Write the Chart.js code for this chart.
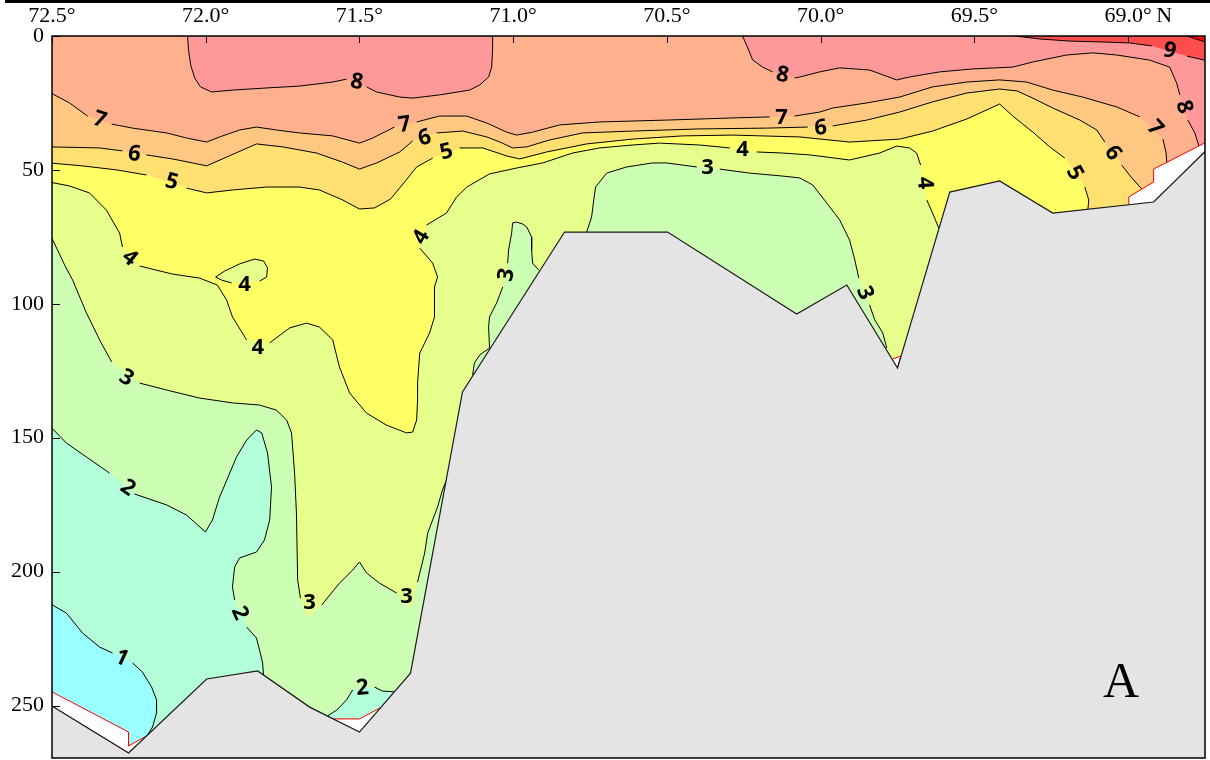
<!DOCTYPE html>
<html>
<head>
<meta charset="utf-8">
<title>Temperature section</title>
<script src="https://cdn.jsdelivr.net/npm/chart.js@4.4.1/dist/chart.umd.min.js"></script>
<style>
  html, body { margin: 0; padding: 0; background: #fff; }
  canvas { display: block; }
</style>
</head>
<body>
<canvas id="section" width="1210" height="760"></canvas>
<script>
// Sea floor: latitude (°N) of each station and bottom depth (m)
const stationLat  = [72.500, 72.251, 71.997, 71.831, 71.662, 71.500, 71.334, 71.165, 70.833, 70.498, 70.078, 69.915, 69.750, 69.580, 69.418, 69.245, 68.917, 68.751];
const bottomDepth = [250.2, 267.7, 240.1, 237.1, 250.6, 259.9, 237.9, 132.9, 73.2, 73.2, 103.8, 93.0, 124.0, 58.3, 54.1, 66.1, 62.0, 43.3];

// Axis ticks
const latTicks = [72.5, 72.0, 71.5, 71.0, 70.5, 70.0, 69.5, 69.0];
const depthTicks = [0, 50, 100, 150, 200, 250];

// Isotherms (°C) as [lat, depth] vertices; null breaks the line where its label sits
const iso1 = [[72.51,211.7],[72.453,215.5],[72.401,222.9],[72.345,228.2],[72.303,230.4],null,[72.238,234.1],[72.206,237.5],[72.176,243.1],[72.160,247.9],[72.160,252.8],[72.173,258.0],[72.189,261.0]];

const iso2 = [[72.51,145.3],[72.453,152.0],[72.388,157.2],[72.313,163.2],null,[72.232,171.0],[72.127,175.1],[72.062,178.9],[72.001,185.2],[71.978,180.7],[71.955,172.1],[71.945,169.5],[71.900,157.2],[71.867,150.9],[71.835,147.1],[71.818,148.2],[71.799,155.7],[71.786,168.4],[71.792,180.7],[71.809,188.2],[71.835,192.7],[71.890,194.9],[71.906,198.3],[71.913,205.7],[71.906,210.6],null,[71.867,220.7],[71.835,224.8],[71.825,229.3],[71.815,234.1],[71.812,238.6]];
const iso2Pocket = [[71.604,253.9],[71.574,251.7],[71.542,247.9],[71.522,244.2],null,[71.451,243.1],[71.425,244.6],[71.386,244.9]];

const iso3 = [[72.51,73.2],[72.482,79.9],[72.459,85.5],[72.433,91.1],[72.388,103.4],[72.345,113.5],[72.306,121.7],null,[72.215,129.6],[72.127,132.2],[72.020,135.2],[71.913,137.0],[71.825,137.8],[71.770,139.7],[71.737,143.4],[71.721,148.2],[71.711,163.2],[71.705,178.1],[71.701,203.1],[71.692,209.9],null,[71.669,217.3],null,[71.623,212.5],[71.565,204.3],[71.522,199.4],[71.500,196.4],[71.477,200.5],[71.435,204.3],[71.379,208.0],null,[71.330,213.6],null,[71.311,203.9],[71.288,193.1],[71.278,185.6],[71.262,180.7],[71.246,175.9],[71.230,169.5],[71.217,165.8]];
const iso3Slope = [[71.132,126.6],[71.126,122.1],[71.109,119.1],[71.077,116.5],[71.080,108.7],[71.077,104.9],[71.054,99.7],[71.034,93.7],null,[71.018,84.8],[71.015,79.9],[71.005,73.6],[71.002,69.8],[70.989,69.5],[70.969,70.2],[70.956,71.3],[70.940,75.1],[70.940,79.9],[70.937,84.8],[70.917,87.4]];
const iso3Bank = [[70.761,73.2],[70.745,67.6],[70.738,61.2],[70.732,56.4],[70.696,51.2],[70.631,48.9],[70.547,47.4],[70.501,47.4],[70.449,48.2],[70.403,48.9],null,[70.328,49.7],[70.231,51.2],[70.124,52.3],[70.068,53.0],[70.026,55.6],[69.980,62.4],[69.938,68.7],[69.906,76.2],[69.889,83.6],[69.876,90.4],null,[69.841,100.4],[69.824,106.0],[69.798,110.9],[69.785,116.5]];

const iso4 = [[72.51,54.5],[72.443,56.0],[72.378,58.6],[72.323,65.0],[72.280,73.6],[72.271,78.8],null,[72.215,85.9],[72.108,88.9],[72.020,90.4],[71.962,93.0],[71.932,98.6],[71.913,104.9],[71.867,113.5],null,[71.792,114.6],[71.727,109.0],[71.672,107.2],[71.630,108.7],[71.587,113.5],[71.565,123.6],[71.532,133.3],[71.477,140.8],[71.412,145.3],[71.347,148.2],[71.327,147.9],[71.314,143.4],[71.311,135.9],[71.311,129.6],[71.304,118.4],[71.272,110.9],[71.256,104.9],[71.256,93.7],[71.246,90.0],[71.262,84.8],[71.304,79.2],null,[71.282,70.6],[71.217,66.1],[71.184,60.1],[71.151,56.4],[71.077,51.5],[70.989,49.3],[70.904,47.4],[70.807,43.7],[70.719,41.8],[70.612,40.7],[70.524,40.0],[70.394,40.7],[70.296,41.8],null,[70.208,43.3],[70.124,43.7],[70.036,44.4],[69.906,46.3],[69.808,43.7],[69.753,41.1],[69.711,41.8],[69.688,43.7],[69.675,48.2],null,[69.655,61.2],[69.636,66.1],[69.616,71.7]];
const iso4Ring = [[71.968,90.0],[71.939,87.8],[71.890,85.1],[71.842,83.3],[71.812,84.0],[71.799,86.6],[71.802,90.0],[71.825,91.5],null,[71.916,92.2],[71.949,91.1],[71.968,90.0]];

const iso5 = [[72.51,47.4],[72.401,48.5],[72.290,50.0],[72.193,51.9],null,[72.062,56.8],[71.997,58.6],[71.913,57.5],[71.802,56.4],[71.695,56.4],[71.630,57.5],[71.555,61.2],[71.500,64.6],[71.451,64.2],[71.399,60.9],[71.353,54.5],[71.314,48.9],[71.262,45.6],null,[71.174,41.8],[71.099,41.8],[71.021,44.8],[70.979,45.9],[70.891,43.3],[70.761,40.3],[70.612,38.5],[70.449,37.3],[70.286,37.0],[70.068,37.7],[69.906,39.6],[69.743,38.5],[69.636,35.5],[69.525,31.0],[69.418,25.4],[69.375,29.9],[69.310,35.9],[69.255,41.4],[69.206,45.6],null,[69.141,56.4],[69.128,61.2],[69.131,65.0]];

const iso6 = [[72.51,41.4],[72.345,41.8],[72.271,42.9],null,[72.193,44.4],[72.108,45.9],[72.043,47.4],[71.997,48.5],[71.932,45.2],[71.835,40.3],[71.750,41.4],[71.640,43.7],[71.555,47.1],[71.500,49.7],[71.444,47.4],[71.369,43.3],[71.327,39.2],null,[71.249,36.2],[71.164,35.5],[71.086,37.7],[71.043,39.6],[71.002,41.8],[70.956,41.4],[70.881,38.8],[70.774,36.2],[70.612,35.5],[70.394,34.7],[70.176,34.4],[70.042,34.0],null,[69.961,33.6],[69.850,31.4],[69.743,28.4],[69.636,24.6],[69.525,21.3],[69.418,19.8],[69.362,20.5],[69.310,23.2],[69.245,26.9],[69.157,31.4],[69.102,35.1],[69.076,39.6],null,[69.021,48.2],[68.988,53.0],[68.956,57.1]];

const iso7 = [[72.51,20.9],[72.443,25.0],[72.384,29.9],null,[72.306,32.9],[72.238,34.4],[72.127,36.2],[72.062,38.1],[71.997,39.6],[71.955,37.7],[71.890,35.1],[71.835,34.0],[71.770,35.1],[71.695,36.2],[71.587,37.3],[71.500,40.0],[71.457,38.1],[71.412,35.5],[71.386,34.0],null,[71.314,32.1],[71.240,29.9],[71.151,29.9],[71.086,32.5],[71.021,35.9],[70.989,37.0],[70.937,35.9],[70.849,33.2],[70.719,32.1],[70.501,31.4],[70.286,30.6],[70.166,30.2],null,[70.085,29.9],[70.003,28.4],[69.961,26.9],[69.850,25.0],[69.743,22.8],[69.636,19.0],[69.525,17.2],[69.418,16.4],[69.330,17.2],[69.245,20.2],[69.148,22.8],[69.037,26.5],[68.962,30.2],null,[68.887,38.5],[68.877,43.3],[68.874,47.4]];

const iso8West = [[72.059,0],[72.056,5.2],[72.049,10.8],[72.036,15.7],[72.017,19.0],[71.981,20.9],[71.913,20.2],[71.802,19.4],[71.695,18.7],[71.587,17.2],[71.542,16.1],null,[71.477,19.0],[71.444,20.9],[71.369,22.8],[71.327,23.2],[71.240,22.0],[71.142,20.2],[71.109,18.3],[71.080,15.3],[71.070,11.6],[71.067,5.2],[71.067,0]];
const iso8East = [[70.254,0],[70.237,4.5],[70.221,9.0],[70.189,11.6],[70.156,13.4],null,[70.085,15.7],[70.068,15.3],[70.003,13.4],[69.938,11.9],[69.841,12.7],[69.753,16.4],[69.711,15.3],[69.613,13.4],[69.505,12.3],[69.375,11.6],[69.310,9.7],[69.200,7.1],[69.115,6.3],[69.037,7.1],[68.930,9.0],[68.865,11.6],[68.842,17.6],[68.832,22.0],null,[68.806,31.4],[68.783,36.2],[68.770,41.1]];

const iso9 = [[69.369,0],[69.288,1.1],[69.190,1.9],[69.093,2.2],[68.995,2.6],[68.923,3.7],null,[68.809,7.5],[68.745,9.2]];
const iso10 = [[68.809,0],[68.780,1.1],[68.745,2.4]];

// Contour labels: text, lat, depth, rotation (deg)
const contourLabels = [
  ['1', 72.274, 232.3, 25],
  ['2', 72.254, 168.8, 35], ['2', 71.890, 215.5, 66], ['2', 71.490, 243.5, -5],
  ['3', 72.258, 127.7, 30], ['3', 71.662, 211.7, 0], ['3', 71.347, 209.5, 0],
  ['3', 71.021, 89.2, -78], ['3', 70.368, 49.3, 0], ['3', 69.857, 96.0, 68],
  ['4', 72.248, 82.9, 40], ['4', 71.874, 93.0, 0], ['4', 71.831, 116.5, 0],
  ['4', 71.298, 75.1, -60], ['4', 70.254, 42.6, 0], ['4', 69.662, 54.9, 85],
  ['5', 72.111, 54.5, 15], ['5', 71.217, 43.3, -15], ['5', 69.174, 51.2, 60],
  ['6', 72.232, 44.1, 8], ['6', 71.288, 38.1, -15], ['6', 70.000, 34.4, -3], ['6', 69.050, 43.7, 55],
  ['7', 72.345, 31.4, 18], ['7', 71.353, 33.2, -8], ['7', 70.127, 30.6, 0], ['7', 68.913, 34.4, 48],
  ['8', 71.509, 17.2, 10], ['8', 70.124, 14.6, 10], ['8', 68.819, 26.5, 72],
  ['9', 68.865, 5.6, 12]
];

// Areas without data next to the sea floor
const noDataWest = [[72.5,244.9],[72.251,259.9],[72.251,265.1],[72.193,261.4],[72.251,267.7],[72.5,250.2]];
const noDataMid  = [[71.587,255.0],[71.500,255.0],[71.428,250.6],[71.500,259.9]];
const noDataTip  = [[69.766,120.6],[69.740,119.5],[69.750,124.0]];
const noDataEast = [[68.998,63.0],[68.998,60.1],[68.917,54.5],[68.917,49.7],[68.745,39.6],[68.745,42.6],[68.917,62.0]];

// Fill colours for each 1 °C band, from <1 up to >10
const bandColors = ['#99ffff', '#b3ffd9', '#ccffb3', '#e6ff8c', '#ffff66', '#ffe070', '#ffc882', '#ffb08c', '#ff9999', '#ff4d4d', '#ff0000'];

// Closure limits lying outside the plotted window
const W = 72.56, E = 68.70, SURF = -5, DEEP = 276;

const solid = pts => pts.filter(Boolean);
// warm side of an isotherm that enters from the western edge
function warmFromWest(pts, extra = []) {
  const p = solid(pts);
  return [[W, SURF], [W, p[0][1]], ...p, ...extra, [E, DEEP], [E, SURF]];
}
// warm side of an isotherm that starts at the surface
function warmFromSurface(pts, tail) {
  const p = solid(pts);
  return [[p[0][0], SURF], ...p, ...tail(p[p.length - 1])];
}
// cold pocket closed under the sea floor
function pocket(pts, head, tail) {
  return [...head, ...solid(pts), ...tail];
}

const fillLayers = [
  [warmFromWest(iso1), bandColors[1]],
  [warmFromWest(iso2, [[71.727, 262.9]]), bandColors[2]],
  [pocket(iso2Pocket, [[71.613, 262.9]], [[71.353, 262.9]]), bandColors[1]],
  [warmFromWest(iso3), bandColors[3]],
  [pocket(iso3Slope, [], [[70.849, 98.6]]), bandColors[2]],
  [pocket(iso3Bank, [[70.761, 91.1]], [[69.785, 135.9]]), bandColors[2]],
  [warmFromWest(iso4), bandColors[4]],
  [pocket(iso4Ring, [], []), bandColors[3]],
  [warmFromWest(iso5), bandColors[5]],
  [warmFromWest(iso6), bandColors[6]],
  [warmFromWest(iso7), bandColors[7]],
  [warmFromSurface(iso8West, last => [[last[0], SURF]]), bandColors[8]],
  [warmFromSurface(iso8East, () => [[E, DEEP], [E, SURF]]), bandColors[8]],
  [warmFromSurface(iso9, last => [[E, last[1]], [E, SURF]]), bandColors[9]],
  [warmFromSurface(iso10, last => [[E, last[1]], [E, SURF]]), bandColors[10]]
];

const contourLines = [iso1, iso2, iso2Pocket, iso3, iso3Slope, iso3Bank, iso4, iso4Ring, iso5, iso6, iso7, iso8West, iso8East, iso9, iso10];

function toXY(pts) {
  let lastX = null;
  return pts.map(p => {
    if (!p) return { x: lastX, y: null };
    lastX = p[0];
    return { x: p[0], y: p[1] };
  });
}

const datasets = [];
for (const [pts, color] of fillLayers) {
  datasets.push({ data: toXY(pts), fill: 'shape', backgroundColor: color, borderWidth: 0, borderColor: 'transparent' });
}
for (const line of contourLines) {
  datasets.push({ data: toXY(line), fill: false, borderColor: '#000', borderWidth: 1, borderJoinStyle: 'round' });
}
for (const area of [noDataWest, noDataMid, noDataTip, noDataEast]) {
  datasets.push({ data: toXY(area), fill: 'shape', backgroundColor: '#ffffff', borderColor: '#ff0000', borderWidth: 1 });
}
const seaFloor = [[W, bottomDepth[0]], ...stationLat.map((lat, i) => [lat, bottomDepth[i]]), [E, bottomDepth[bottomDepth.length - 1]], [E, DEEP], [W, DEEP]];
datasets.push({ data: toXY(seaFloor), fill: 'shape', backgroundColor: '#e4e4e4', borderColor: '#1a1a1a', borderWidth: 1.2 });

// first entry is painted first (bottom), so give it the highest order
datasets.forEach((d, i) => {
  d.order = datasets.length - i;
  d.pointRadius = 0;
  d.pointHoverRadius = 0;
  d.tension = 0;
  d.spanGaps = false;
});

const serif = '"Liberation Serif", "Times New Roman", serif';

const sectionDecor = {
  id: 'sectionDecor',
  beforeDraw(chart) {
    const { ctx, width, height } = chart;
    ctx.save();
    ctx.fillStyle = '#fff';
    ctx.fillRect(0, 0, width, height);
    ctx.fillStyle = '#000';
    ctx.fillRect(5, 0, width - 5, 3);
    ctx.restore();
  },
  beforeDatasetsDraw(chart) {
    const { ctx, chartArea: a } = chart;
    ctx.save();
    ctx.fillStyle = bandColors[0];
    ctx.fillRect(a.left, a.top, a.right - a.left, a.bottom - a.top);
    ctx.restore();
  },
  afterDatasetsDraw(chart) {
    const { ctx, chartArea: a, scales: { x, y } } = chart;
    ctx.save();
    ctx.font = 'bold 22px "Open Sans", "DejaVu Sans", sans-serif';
    ctx.fillStyle = '#000';
    ctx.textAlign = 'center';
    ctx.textBaseline = 'middle';
    for (const [text, lat, depth, angle] of contourLabels) {
      ctx.save();
      ctx.translate(x.getPixelForValue(lat), y.getPixelForValue(depth));
      ctx.rotate(angle * Math.PI / 180);
      ctx.fillText(text, 0, 0);
      ctx.restore();
    }
    // inward tick marks
    ctx.strokeStyle = '#000';
    ctx.lineWidth = 1;
    ctx.beginPath();
    for (const v of latTicks) {
      const px = Math.round(x.getPixelForValue(v)) + 0.5;
      ctx.moveTo(px, a.top);
      ctx.lineTo(px, a.top + 7);
    }
    for (const v of depthTicks) {
      const py = Math.round(y.getPixelForValue(v)) + 0.5;
      ctx.moveTo(a.left, py);
      ctx.lineTo(a.left + 8, py);
    }
    ctx.stroke();
    // frame
    ctx.lineWidth = 1.5;
    ctx.strokeRect(a.left, a.top, a.right - a.left, a.bottom - a.top);
    // hemisphere after the last latitude label
    ctx.font = '22px ' + serif;
    ctx.textAlign = 'left';
    ctx.textBaseline = 'middle';
    ctx.fillText('N', x.getPixelForValue(69.0) + 28, a.top - 7 - 13.2);
    // panel letter
    ctx.font = '50px ' + serif;
    ctx.textAlign = 'center';
    ctx.textBaseline = 'alphabetic';
    ctx.fillText('A', a.right - 84, a.bottom - 61);
    ctx.restore();
  }
};

new Chart(document.getElementById('section'), {
  type: 'line',
  data: { datasets },
  options: {
    responsive: false,
    animation: false,
    devicePixelRatio: 1,
    events: [],
    layout: { padding: { left: 0, top: 0, right: 5, bottom: 2 } },
    plugins: { legend: { display: false }, tooltip: { enabled: false } },
    scales: {
      x: {
        type: 'linear', position: 'top', reverse: true, min: 68.75, max: 72.5,
        afterBuildTicks: s => { s.ticks = latTicks.map(v => ({ value: v })); },
        afterFit: s => { s.height = 36; s.paddingLeft = 0; s.paddingRight = 0; },
        grid: { display: false, drawTicks: false },
        border: { display: false },
        ticks: {
          autoSkip: false, maxRotation: 0, minRotation: 0, padding: 7, color: '#000',
          font: { family: serif, size: 22 },
          callback: v => v.toFixed(1) + '°'
        }
      },
      y: {
        type: 'linear', reverse: true, min: 0, max: 269.6,
        afterBuildTicks: s => { s.ticks = depthTicks.map(v => ({ value: v })); },
        afterFit: s => { s.width = 52; s.paddingTop = 0; s.paddingBottom = 0; },
        grid: { display: false, drawTicks: false },
        border: { display: false },
        ticks: {
          padding: 8, color: '#000',
          font: { family: serif, size: 22 },
          callback: v => String(v)
        }
      }
    }
  },
  plugins: [sectionDecor]
});
</script>
</body>
</html>
